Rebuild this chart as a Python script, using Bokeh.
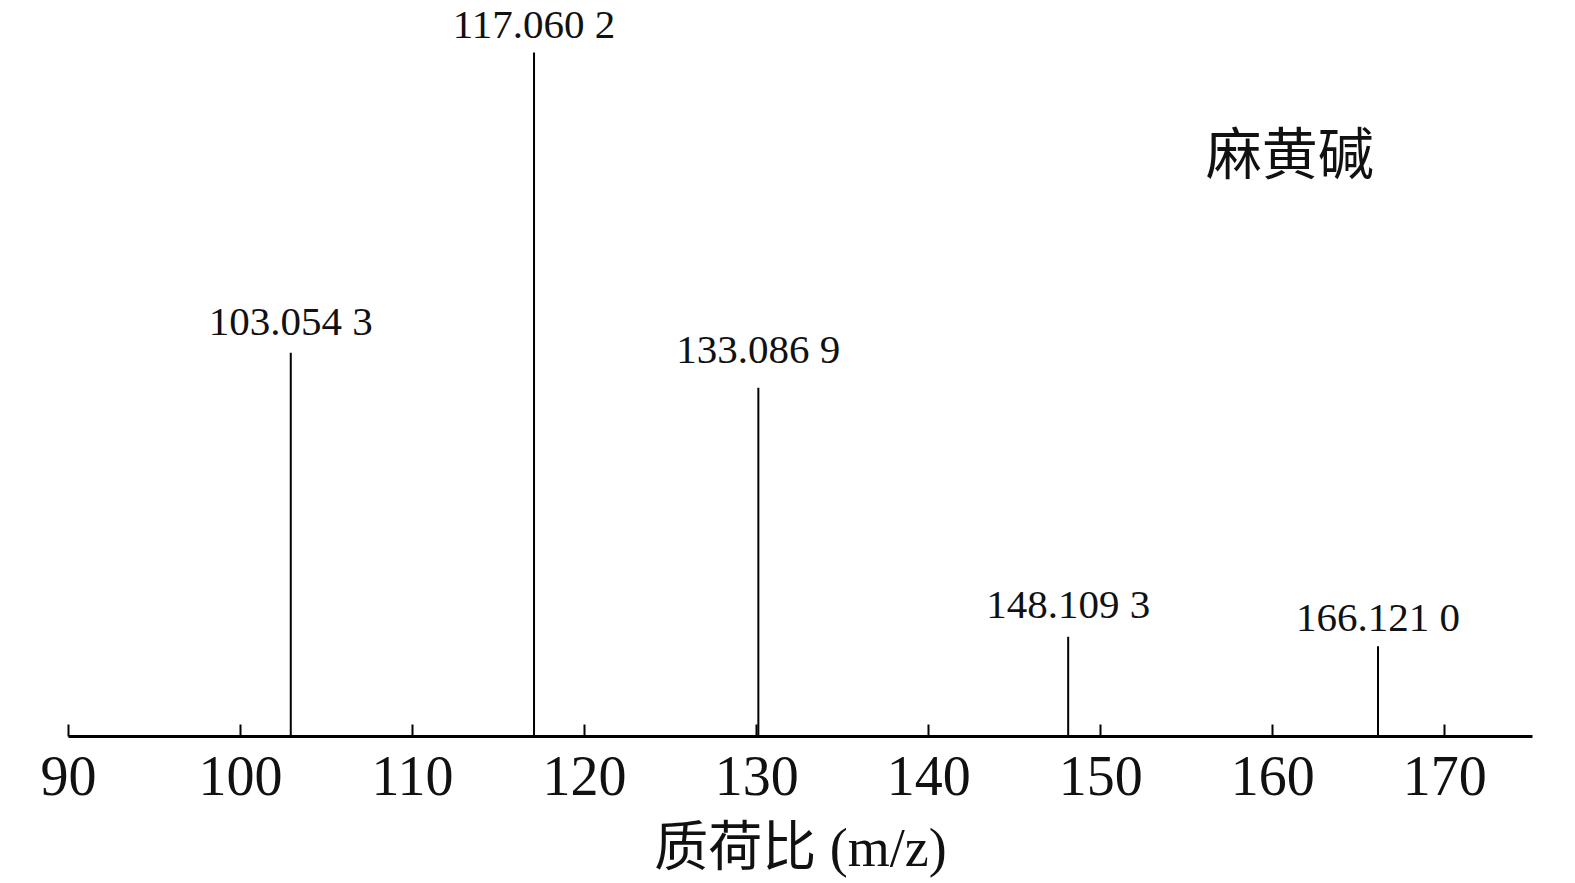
from bokeh.plotting import figure
from bokeh.models import Range1d, FixedTicker, ColumnDataSource, LabelSet, Label
from bokeh.embed import file_html
from bokeh.resources import INLINE

# ---- data ----
peak_x = [102.92, 117.06, 130.1, 148.11, 166.12]          # drawn positions on m/z axis
peak_intensity = [56.1, 100.0, 51.0, 14.6, 13.2]          # relative intensity (%)
peak_labels = ["103.054 3", "117.060 2", "133.086 9", "148.109 3", "166.121 0"]
x_ticks = [90, 100, 110, 120, 130, 140, 150, 160, 170]
compound = "麻黄碱"
x_title = "质荷比 (m/z)"

# ---- styling ----
label_gap = [18, 15, 25, 19, 15]   # px gap between label baseline and peak top
SERIF = "Liberation Serif"
CJK = "Noto Sans CJK SC"

W, H = 1575, 883
p = figure(width=W, height=H, output_backend="svg", toolbar_location=None,
           x_range=Range1d(90, 175.1), y_range=Range1d(0, 107.6),
           min_border_left=68, min_border_right=43, min_border_top=0,
           min_border_bottom=147)
p.outline_line_color = None
p.xgrid.visible = False
p.ygrid.visible = False
p.yaxis.visible = False
p.background_fill_color = "white"
p.border_fill_color = "white"

src = ColumnDataSource(dict(x=peak_x, y=peak_intensity, y0=[0] * len(peak_x),
                            label=peak_labels, gap=label_gap))
p.segment(x0="x", y0="y0", x1="x", y1="y", source=src, line_color="black",
          line_width=2)

p.add_layout(LabelSet(x="x", y="y", text="label", source=src, y_offset="gap",
                      text_align="center", text_baseline="alphabetic",
                      text_font=SERIF, text_font_size="41px", text_color="#111111"))

ax = p.xaxis[0]
ax.ticker = FixedTicker(ticks=x_ticks)
ax.axis_line_width = 3
ax.axis_line_color = "black"
ax.major_tick_in = 12
ax.major_tick_out = 0
ax.major_tick_line_width = 2
ax.major_tick_line_color = "black"
ax.minor_tick_in = 0
ax.minor_tick_out = 0
ax.major_label_text_font = SERIF
ax.major_label_text_font_size = "56px"
ax.major_label_text_color = "#111111"
ax.major_label_standoff = 20
ax.axis_label = x_title
ax.axis_label_text_font = "Liberation Serif, Noto Sans CJK SC"
ax.axis_label_text_font_style = "normal"
ax.axis_label_text_font_size = "54px"
ax.axis_label_text_color = "#111111"
ax.axis_label_standoff = 20

# compound name
p.add_layout(Label(x=156.1, y=85.75, text=compound, text_font=CJK,
                   text_font_size="56px", text_align="left", text_baseline="middle",
                   text_color="#111111"))

open("out.html", "w").write(file_html(p, INLINE))
